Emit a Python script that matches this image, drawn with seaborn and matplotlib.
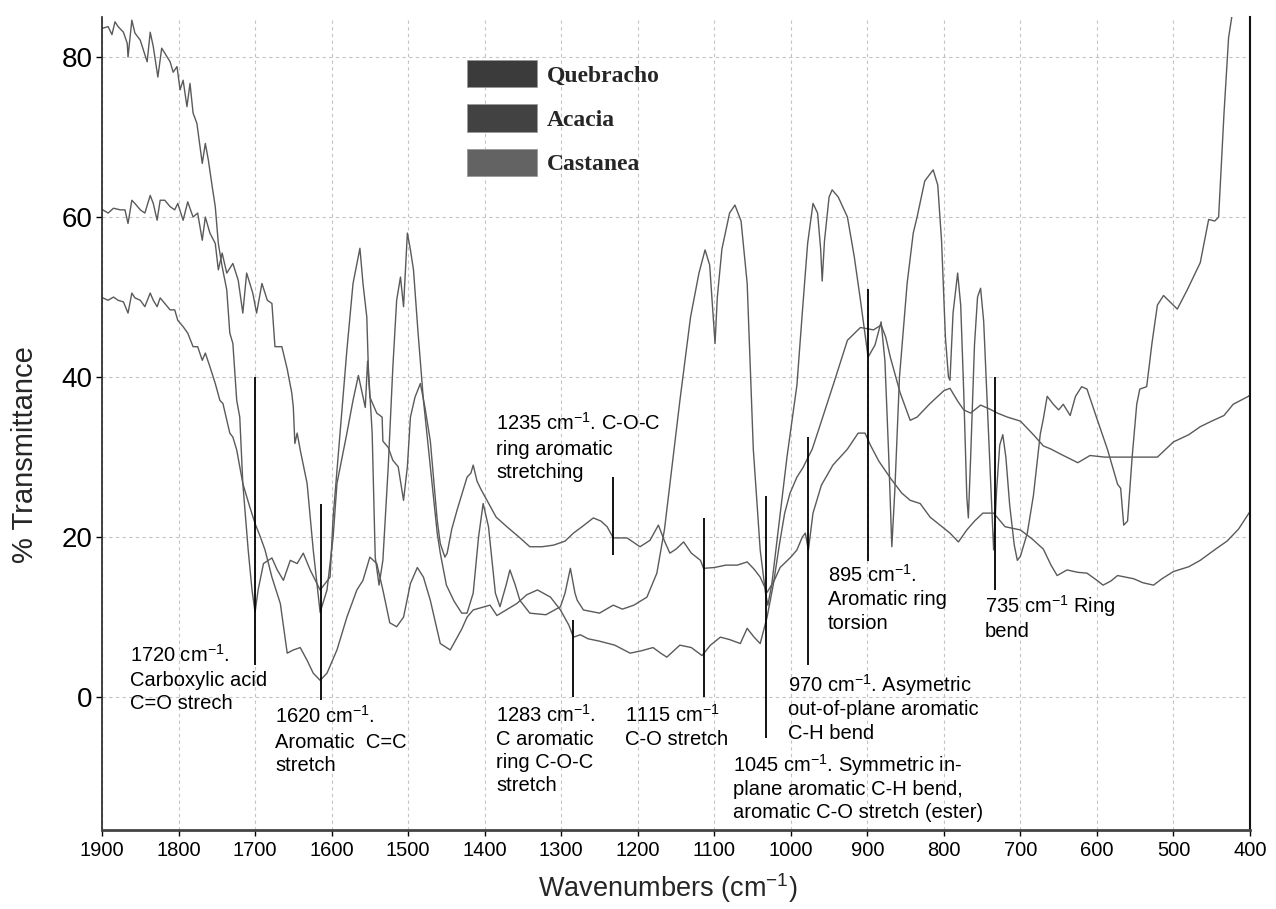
import matplotlib
matplotlib.use("Agg")
import matplotlib.pyplot as plt
import seaborn as sns
import pandas as pd
from matplotlib.patches import Patch

# ---------------- data ----------------
quebracho = [(1899,83.6),(1892,83.8),(1887,82.8),(1883,84.4),(1879,83.8),(1872,83.1),(1867,81.7),(1866,80),(1861,84.6),
    (1857,83),(1850,82.1),(1841,79.4),(1837,83.1),(1833,81.3),(1827,77.5),(1822,81.1),(1818,80.5),(1811,79.4),(1807,78.1),
    (1802,78.8),(1798,75.9),(1794,77.1),(1789,73.8),(1785,76.7),(1781,73),(1776,71.7),(1769,66.7),(1765,69.2),(1761,67.1),
    (1756,63.8),(1752,61.3),(1748,56.7),(1743,53.8),(1737,50.9),(1733,45.5),(1729,44.2),(1724,37.1),(1720,35),(1716,26.7),
    (1709,18.4),(1704,13.4),(1700,10.6),(1696,13.4),(1689,16.7),(1678,17.4),(1671,15.9),(1663,14.6),(1654,17.1),(1645,16.7),
    (1637,18),(1628,15.9),(1615,13.4),(1602,15),(1598,22.5),(1589,33),(1580,43.4),(1572,51.7),(1563,56.1),(1559,51.7),
    (1554,47.5),(1552,41.2),(1547,33),(1543,17.5),(1538,14),(1533,17.1),(1526,28.8),(1520,41.2),(1515,49.6),(1510,52.5),
    (1506,48.8),(1501,58),(1497,55.9),(1493,53.4),(1487,45.5),(1480,37.1),(1471,28.8),(1462,20.5),(1458,18),(1450,14),
    (1440,12),(1430,10.5),(1423,10.5),(1415,13),(1408,20),(1402,24.2),(1395,21.3),(1386,13),(1380,11.3),(1372,14),
    (1367,15.9),(1360,14),(1354,12.1),(1341,10.5),(1320,10.3),(1301,11.3),(1295,13),(1288,16.1),(1282,13),(1279,12.1),
    (1271,10.9),(1250,10.5),(1232,11.5),(1220,11),(1205,11.5),(1188,12.5),(1175,15.5),(1165,21),(1155,29),(1145,37),
    (1131,47.5),(1120,53),(1112,55.9),(1106,54),(1101,47),(1099,44.2),(1096,50),(1090,56),(1080,60.5),(1073,61.5),
    (1065,59.5),(1057,51.7),(1049,31),(1040,18.4),(1033,13),(1030,11.5),(1025,14),(1015,22),(1005,30),(992,39),(985,48),
    (978,56.7),(971,61.7),(965,60.5),(961,56),(959,52),(956,57),(950,62.5),(946,63.4),(938,62.5),(926,60),(917,55),
    (909,49.6),(899,42.5),(890,44),(882,46.9),(877,42),(872,30),(868,18.8),(864,26),(858,40),(852,47),(848,51.7),(840,58),
    (835,60),(825,64.5),(814,65.9),(808,64),(803,57),(798,45),(794,40),(792,39.6),(788,48),(782,53),(778,49),(774,38),
    (770,25),(768,22.4),(765,30),(760,44),(756,50),(752,51.1),(748,47),(743,36),(738,25),(735,18.4),(731,26),(727,31.5),
    (723,32.8),(719,30),(714,24),(708,19),(704,17.1),(700,17.6),(691,20.5),(683,25.2),(674,32.9),(670,34.8),(665,37.6),
    (657,36.6),(650,35.9),(644,36.6),(635,35.2),(628,37.6),(620,38.8),(613,38.5),(600,34.8),(586,30.9),(573,26.6),
    (569,26.1),(565,21.5),(560,22),(554,30),(548,36.6),(544,38.5),(535,38.8),(528,44.3),(521,49),(513,50.2),(495,48.5),
    (482,50.9),(465,54.3),(454,59.7),(446,59.5),(441,60),(434,72.9),(428,82.4),(423,85.5),(418,92)]

acacia = [(1899,60.9),(1892,60.5),(1885,61.1),(1876,60.9),(1870,60.9),(1866,59.2),(1861,62.1),(1857,61.7),(1850,60.9),
    (1844,60.5),(1837,62.7),(1833,61.7),(1828,59.6),(1824,62.1),(1818,62.1),(1811,61.3),(1805,60.9),(1801,61.7),(1794,59.6),
    (1788,61.9),(1781,60),(1775,60.5),(1769,57.1),(1765,60),(1759,58),(1752,56.7),(1748,53.4),(1743,55.5),(1737,53),
    (1729,54.2),(1722,52.1),(1716,48),(1711,53),(1703,50.5),(1698,48),(1691,51.7),(1684,49.6),(1678,49.2),(1674,43.8),
    (1665,43.8),(1658,41),(1652,38),(1650,36.2),(1648,31.7),(1645,33),(1641,30.9),(1632,26.7),(1624,18.4),(1615,10.6),
    (1606,13.4),(1598,20),(1593,26.7),(1580,33),(1572,37.1),(1565,40.2),(1556,36.2),(1553,42),(1550,37.5),(1541,35.5),
    (1534,35),(1533,32),(1526,31.2),(1520,29.6),(1513,28.8),(1506,24.6),(1501,28.8),(1497,35),(1491,37.5),(1484,39.2),
    (1478,36.2),(1471,32),(1462,22.1),(1458,19.2),(1452,17.5),(1449,18),(1443,21),(1436,23.4),(1423,27.5),(1418,28),
    (1415,29),(1410,27),(1405,26),(1397,24.6),(1385,22.5),(1371,21.3),(1355,20),(1341,18.8),(1325,18.8),(1310,19),
    (1295,19.5),(1284,20.5),(1270,21.5),(1258,22.4),(1248,22),(1240,21.3),(1232,19.9),(1214,19.9),(1197,18.8),(1184,19.6),
    (1173,21.5),(1165,19.5),(1158,18),(1150,18.5),(1140,19.4),(1130,18),(1118,17.1),(1114,16.1),(1100,16.2),(1085,16.5),
    (1070,16.5),(1057,16.9),(1048,16),(1040,15),(1031,13.1),(1022,14.5),(1014,16.2),(1000,17.5),(992,18.4),(985,20),
    (981,20.5),(977,18.4),(971,23),(960,26.5),(945,29),(926,31),(912,33),(903,33),(896,31.5),(885,29.5),(870,27.4),
    (855,25.5),(844,24.6),(831,24.2),(818,22.5),(805,21.5),(792,20.5),(781,19.4),(770,20.9),(760,22),(749,23),(735,23),
    (720,21.3),(700,20.9),(685,19.8),(670,18.5),(660,16.5),(652,15.2),(639,15.9),(625,15.6),(613,15.5),(600,14.6),
    (592,14),(582,14.5),(573,15.2),(552,14.8),(540,14.3),(526,14),(515,14.8),(500,15.7),(480,16.3),(465,17.1),(445,18.5),
    (430,19.5),(415,21),(402,22.9),(400,23.2)]

castanea = [(1899,49.9),(1892,49.6),(1885,50),(1879,49.6),(1872,49.4),(1866,48),(1861,50.5),(1857,49.9),(1850,49.6),
    (1844,48.8),(1837,50.5),(1833,49.6),(1828,48.8),(1824,49.9),(1818,49.2),(1811,48.4),(1805,48.4),(1801,47.1),(1794,46.3),
    (1788,45.5),(1781,43.8),(1775,43.8),(1769,42.1),(1765,43),(1759,41.3),(1752,39.2),(1746,37.1),(1742,36.7),(1733,33),
    (1729,32.5),(1724,30.9),(1716,26.7),(1707,23.8),(1700,21.7),(1693,20),(1687,18.4),(1678,15),(1667,11.7),(1658,5.5),
    (1650,5.9),(1641,6.2),(1632,4.6),(1624,3),(1615,2.1),(1606,3),(1593,5.9),(1580,10),(1567,13.4),(1559,14.6),(1550,17.5),
    (1541,16.7),(1533,13.4),(1524,9.3),(1515,8.8),(1506,10),(1497,14.2),(1488,16.2),(1480,15),(1471,12.1),(1458,6.7),
    (1445,5.9),(1430,8.5),(1423,10),(1415,10.9),(1393,11.5),(1384,10.2),(1370,11),(1358,11.7),(1345,12.8),(1331,13.4),
    (1314,12.5),(1301,10.9),(1290,9),(1284,7.5),(1275,7.8),(1265,7.3),(1250,7),(1230,6.5),(1210,5.5),(1195,5.8),(1180,6.2),
    (1170,5.5),(1162,5),(1145,6.5),(1130,6.2),(1116,5.2),(1105,6.5),(1092,7.5),(1080,7.2),(1066,6.7),(1057,8.6),(1048,7.5),
    (1040,6.7),(1031,10),(1023,14),(1015,19),(1008,23),(1001,25.5),(992,27.5),(984,28.7),(972,31),(961,34.2),(944,39.2),
    (926,44.6),(909,46.2),(892,45.9),(882,46.5),(876,45),(870,42.5),(857,38),(844,34.6),(835,35),(825,36),(818,36.7),
    (800,38.3),(792,38.6),(782,37),(774,35.9),(765,35.5),(752,36.5),(740,36),(730,35.5),(717,35),(700,34.5),(683,32.8),
    (670,31.4),(660,31),(648,30.4),(625,29.3),(609,30.2),(590,30),(560,30),(540,30),(521,30),(510,31),(500,31.9),(480,32.8),
    (465,33.8),(450,34.5),(434,35.2),(422,36.6),(402,37.6),(400,37.8)]

series_names = ["Quebracho", "Acacia", "Castanea"]
series_data = [quebracho, acacia, castanea]
legend_colors = ["#3b3b3b", "#424242", "#636363"]
x_ticks = [1900, 1800, 1700, 1600, 1500, 1400, 1300, 1200, 1100, 1000, 900, 800, 700, 600, 500, 400]
y_ticks = [0, 20, 40, 60, 80]

# band marker lines: wavenumber position, lower and upper % transmittance
band_wn = [1700, 1614, 1284, 1232, 1114, 1032, 978, 899, 733]
band_lo = [4, -0.4, 0, 17.8, 0, -5.1, 4, 17, 13.4]
band_hi = [40, 24.2, 9.6, 27.5, 22.4, 25.2, 32.5, 51, 40]

# annotation lines (figure pixel x, baseline pixel y, text)
annotations = [
    (130, 662, "1720 cm$^{-1}$."), (130, 686, "Carboxylic acid"), (130, 709, "C=O strech"),
    (275, 723, "1620 cm$^{-1}$."), (275, 748, "Aromatic  C=C"), (275, 771, "stretch"),
    (496, 430, "1235 cm$^{-1}$. C-O-C"), (496, 455, "ring aromatic"), (496, 478, "stretching"),
    (496, 722, "1283 cm$^{-1}$."), (496, 745, "C aromatic"), (496, 768, "ring C-O-C"), (496, 791, "stretch"),
    (625, 722, "1115 cm$^{-1}$"), (625, 745, "C-O stretch"),
    (733, 772, "1045 cm$^{-1}$. Symmetric in-"), (733, 795, "plane aromatic C-H bend,"),
    (733, 818, "aromatic C-O stretch (ester)"),
    (788, 692, "970 cm$^{-1}$. Asymetric"), (788, 715, "out-of-plane aromatic"), (788, 739, "C-H bend"),
    (828, 582, "895 cm$^{-1}$."), (828, 605, "Aromatic ring"), (828, 629, "torsion"),
    (985, 613, "735 cm$^{-1}$ Ring"), (985, 637, "bend"),
]

# ---------------- styling ----------------
sns.set_style("white")
plt.rcParams["font.family"] = ["Liberation Sans", "DejaVu Sans"]
plt.rcParams["mathtext.default"] = "regular"

W, H = 1276, 909
fig = plt.figure(figsize=(W / 100, H / 100), dpi=100)
ax = fig.add_axes([102 / W, 1 - 830 / H, (1250 - 102) / W, (830 - 17) / H])

frames = []
for name, pts in zip(series_names, series_data):
    frames.append(pd.DataFrame({"wn": [p[0] for p in pts], "T": [p[1] for p in pts], "series": name}))
df = pd.concat(frames, ignore_index=True)

for name in series_names:
    sns.lineplot(data=df[df["series"] == name], x="wn", y="T", estimator=None, sort=False,
                 color="#5a5a5a", linewidth=1.0, ax=ax)

ax.set_xlim(1900, 400)
ax.set_ylim(-16.6, 85)
ax.set_xticks(x_ticks)
ax.set_yticks(y_ticks)
ax.set_xlabel("")
ax.set_ylabel("")
ax.grid(True, color="#c4c4c4", linestyle=(0, (3, 3)), linewidth=0.8)
ax.set_axisbelow(True)

ax.spines["top"].set_visible(False)
ax.spines["left"].set_color("#222222")
ax.spines["left"].set_linewidth(1.2)
ax.spines["right"].set_color("#111111")
ax.spines["right"].set_linewidth(1.5)
ax.spines["bottom"].set_color("#444444")
ax.spines["bottom"].set_linewidth(2.0)

ax.tick_params(axis="x", bottom=True, direction="out", length=4, width=1, labelsize=14.5, pad=4, colors="black")
ax.tick_params(axis="y", left=True, direction="out", length=4, width=1, labelsize=20, pad=3, colors="black")

# band markers
ax.vlines(band_wn, band_lo, band_hi, colors="black", linewidth=1.3, zorder=4)

# annotations
for px, py, txt in annotations:
    fig.text(px / W, 1 - py / H, txt, fontsize=14.5, color="black", ha="left", va="baseline")

# axis labels
fig.text(668 / W, 1 - 897 / H, "Wavenumbers (cm$^{-1}$)", fontsize=19.5, ha="center", va="baseline")
fig.text(25 / W, 1 - 455 / H, "% Transmittance", fontsize=21, rotation=90, ha="center", va="center")

# legend
handles = [Patch(facecolor=c, edgecolor="#999999", linewidth=0.6) for c in legend_colors]
ax.legend(handles, series_names, loc="upper left", bbox_to_anchor=(467 / W, 1 - 60 / H),
          bbox_transform=fig.transFigure, frameon=False, borderpad=0, borderaxespad=0,
          handlelength=2.95, handleheight=1.4, labelspacing=0.72, handletextpad=0.42,
          prop={"family": ["Liberation Serif", "DejaVu Serif"], "weight": "bold", "size": 17})

fig.savefig("out.png", dpi=100)
